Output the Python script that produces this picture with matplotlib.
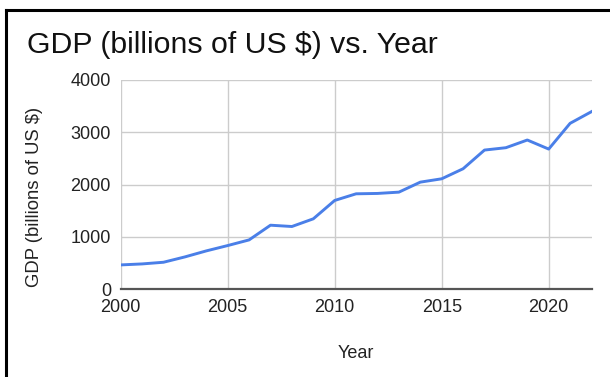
import matplotlib
matplotlib.use("Agg")
import matplotlib.pyplot as plt
from matplotlib.lines import Line2D

years = list(range(2000, 2023))
gdp = [466, 485, 517, 619, 734, 836, 944, 1225, 1200, 1347, 1698, 1825,
       1832, 1857, 2048, 2112, 2304, 2661, 2706, 2853, 2680, 3172, 3395]
xticks = [2000, 2005, 2010, 2015, 2020]
yticks = [0, 1000, 2000, 3000, 4000]

plt.rcParams['font.family'] = ['Liberation Sans', 'DejaVu Sans']

W, H = 610, 377
fig = plt.figure(figsize=(W / 100, H / 100), dpi=100)
fig.patch.set_facecolor('white')

ax = fig.add_axes([120.7 / W, 1 - 289.3 / H, (591.5 - 120.7) / W, (289.3 - 80) / H])
ax.plot(years, gdp, color='#4A7FE8', lw=2.1, solid_joinstyle='round', zorder=3)
ax.set_xlim(2000, 2022)
ax.set_ylim(0, 4000)
ax.set_xticks(xticks)
ax.set_yticks(yticks)
ax.set_xticklabels([str(t) for t in xticks])
ax.set_yticklabels([str(t) for t in yticks])
ax.grid(True, color='#cccccc', lw=1.0)
ax.set_axisbelow(True)
for s in ['top', 'right', 'left']:
    ax.spines[s].set_visible(False)
ax.spines['bottom'].set_color('#555555')
ax.spines['bottom'].set_linewidth(1.6)
ax.spines['bottom'].set_zorder(4)
ax.tick_params(axis='both', length=0, labelsize=13, colors='#222222')
ax.tick_params(axis='y', pad=7)
ax.tick_params(axis='x', pad=7)
ax.set_xlabel('Year', fontsize=13, labelpad=21, color='#222222')
ax.set_ylabel('GDP (billions of US $)', fontsize=13.3, labelpad=20, color='#222222')
ax.yaxis.label.set_y(0.44)

fig.text(27 / W, 1 - 53 / H, 'GDP (billions of US $) vs. Year', fontsize=21.8,
         va='baseline', ha='left', color='#111111')

# frame border (top and left)
fig.add_artist(Line2D([6 / W, 6 / W], [0, 1 - 10 / H], transform=fig.transFigure,
                      color='black', lw=2.2))
fig.add_artist(Line2D([6 / W, 1], [1 - 10 / H, 1 - 10 / H], transform=fig.transFigure,
                      color='black', lw=2.2))

fig.savefig('out.png', dpi=100, facecolor='white')
